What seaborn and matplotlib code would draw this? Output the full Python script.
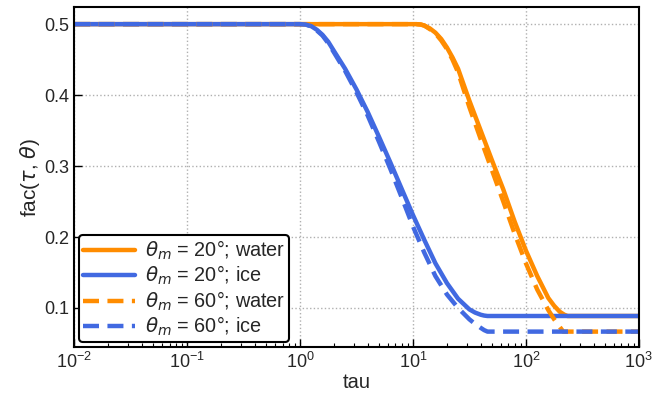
import numpy as np
import matplotlib
matplotlib.use("Agg")
import matplotlib.pyplot as plt
import seaborn as sns

# values (tau on log axis, fac)
tau_ice = [0.01, 1.0, 1.12, 1.26, 1.41, 1.58, 1.78, 2.0, 2.51, 3.16, 3.98, 5.01, 6.31, 7.94,
           10.0, 12.6, 15.8, 20.0, 25.1, 31.6, 35.5, 39.8, 42.7, 45.7, 1000]
fac_ice_20 = [0.5, 0.5, 0.4995, 0.497, 0.492, 0.485, 0.475, 0.462, 0.437, 0.408, 0.376, 0.341,
              0.305, 0.268, 0.231, 0.196, 0.163, 0.135, 0.113, 0.098, 0.0935, 0.0905, 0.0893,
              0.0887, 0.0887]
fac_ice_60 = [0.5, 0.5, 0.4995, 0.497, 0.491, 0.484, 0.473, 0.46, 0.434, 0.404, 0.371, 0.334,
              0.296, 0.256, 0.215, 0.178, 0.145, 0.119, 0.1, 0.084, 0.0775, 0.072, 0.0688,
              0.0667, 0.0667]

tau_water_20 = [0.01, 10.7, 11.7, 12.6, 14.1, 15.8, 17.8, 20.0, 22.4, 25.1, 31.6, 39.8, 50.1,
                63.1, 79.4, 100, 126, 158, 178, 200, 219, 234, 1000]
fac_water_20 = [0.5, 0.5, 0.4995, 0.498, 0.494, 0.488, 0.479, 0.467, 0.453, 0.437, 0.392,
                0.35, 0.308, 0.267, 0.222, 0.181, 0.145, 0.114, 0.103, 0.0945, 0.0905, 0.0887,
                0.0887]

tau_water_60 = [0.01, 10.7, 11.7, 12.6, 14.1, 15.8, 17.8, 20.0, 22.4, 25.1, 31.6, 39.8, 50.1,
                63.1, 79.4, 100, 126, 158, 178, 200, 214, 1000]
fac_water_60 = [0.5, 0.5, 0.4995, 0.498, 0.493, 0.487, 0.477, 0.465, 0.45, 0.432, 0.383, 0.338,
                0.294, 0.25, 0.205, 0.163, 0.126, 0.097, 0.084, 0.073, 0.0667, 0.0667]

labels = [r"$\theta_m$ = 20°; water", r"$\theta_m$ = 20°; ice",
          r"$\theta_m$ = 60°; water", r"$\theta_m$ = 60°; ice"]

sns.set_style("ticks")
plt.rcParams["font.family"] = ["Liberation Sans", "DejaVu Sans"]
plt.rcParams["mathtext.fontset"] = "dejavusans"

fig = plt.figure(figsize=(6.62, 3.95), dpi=100)
ax = fig.add_axes([0.112, 0.1215, 0.853, 0.8605])

orange = "#ff8c00"
blue = "#4169e1"
lw = 3.2

sns.lineplot(x=tau_water_20, y=fac_water_20, color=orange, lw=lw, label=labels[0], ax=ax, sort=False)
sns.lineplot(x=tau_ice, y=fac_ice_20, color=blue, lw=lw, label=labels[1], ax=ax, sort=False)
sns.lineplot(x=tau_water_60, y=fac_water_60, color=orange, lw=lw, label=labels[2], ax=ax, sort=False)
sns.lineplot(x=tau_ice, y=fac_ice_60, color=blue, lw=lw, label=labels[3], ax=ax, sort=False)
ax.lines[2].set_dashes((3.6, 1.9))
ax.lines[3].set_dashes((3.6, 1.9))

ax.set_xscale("log")
ax.set_xlim(1e-2, 1e3)
ax.set_ylim(0.045, 0.524)
ax.set_yticks([0.1, 0.2, 0.3, 0.4, 0.5])

ax.grid(True, which="major", color="#b0b0b0", linestyle=":", linewidth=1)
ax.tick_params(which="both", direction="in", labelsize=13, color="black")
ax.tick_params(which="major", length=6, width=1)
ax.tick_params(which="minor", length=3, width=0.8)
for s in ax.spines.values():
    s.set_color("black")
    s.set_linewidth(1.5)

ax.set_xlabel("tau", fontsize=14.5, labelpad=1)
ax.set_ylabel(r"fac($\tau$, $\theta$)", fontsize=15, labelpad=2)

leg = ax.legend(loc="lower left", fontsize=14.3, handlelength=2.6, labelspacing=0.1,
                borderaxespad=0.25, borderpad=0.2, handletextpad=0.5, framealpha=1, fancybox=True)
leg.get_frame().set_edgecolor("black")
leg.get_frame().set_linewidth(1.5)

fig.savefig("out.png", dpi=100)
